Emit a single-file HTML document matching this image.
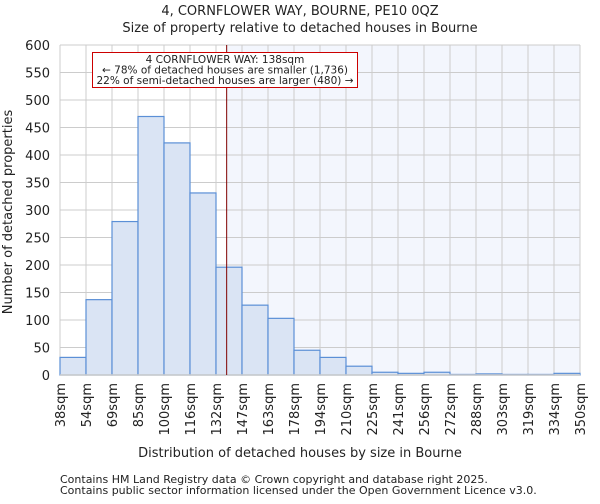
<!DOCTYPE html>
<html><head><meta charset="utf-8"><style>
body{margin:0;background:#fff;font-family:"DejaVu Sans","Liberation Sans",sans-serif;}
svg text{font-family:"DejaVu Sans","Liberation Sans",sans-serif;fill:#222;}
</style></head><body>
<svg id="chart" width="600" height="500" xmlns="http://www.w3.org/2000/svg">
<text x="300" y="15" text-anchor="middle" font-size="13">4, CORNFLOWER WAY, BOURNE, PE10 0QZ</text>
<text x="300" y="32" text-anchor="middle" font-size="13">Size of property relative to detached houses in Bourne</text>
<g id="plot"></g>
<text x="300" y="457" text-anchor="middle" font-size="13">Distribution of detached houses by size in Bourne</text>
<text transform="translate(12,212) rotate(-90)" text-anchor="middle" font-size="13">Number of detached properties</text>
<text x="60" y="483" font-size="11" fill="#444">Contains HM Land Registry data © Crown copyright and database right 2025.</text>
<text x="60" y="494" font-size="11" fill="#444">Contains public sector information licensed under the Open Government Licence v3.0.</text>
</svg>
<script>
const binLabels=["38sqm","54sqm","69sqm","85sqm","100sqm","116sqm","132sqm","147sqm","163sqm","178sqm","194sqm","210sqm","225sqm","241sqm","256sqm","272sqm","288sqm","303sqm","319sqm","334sqm","350sqm"];
const counts=[32,137,279,470,422,331,196,127,103,45,32,16,5,3,5,1,2,1,1,3];
const yTicks=[0,50,100,150,200,250,300,350,400,450,500,550,600];
const propertySize=138;
const xMin=38,xMax=350;
const L=60,R=580,T=45,B=375;
const NS="http://www.w3.org/2000/svg";
const g=document.getElementById('plot');
const xb=i=>L+i*(R-L)/counts.length;
const xv=v=>L+(v-xMin)/(xMax-xMin)*(R-L);
const y=v=>B-v/600*(B-T);
function mk(t,a){const e=document.createElementNS(NS,t);for(const k in a)e.setAttribute(k,a[k]);g.appendChild(e);return e;}
const px=xv(propertySize);
let hl=mk('rect',{x:px,y:T,width:R-px,height:B-T,fill:'#f3f6fd'});


yTicks.forEach(t=>{
 let l=mk('line',{x1:L,x2:R,y1:y(t),y2:y(t),stroke:'#ccc','stroke-width':1});
 
 
 let tx=mk('text',{x:L-10,y:y(t)+5,'text-anchor':'end','font-size':13});
 tx.textContent=t;
 
 
});
binLabels.forEach((lab,i)=>{
 let l=mk('line',{x1:xb(i),x2:xb(i),y1:T,y2:B,stroke:'#ccc','stroke-width':1});
 
 
 let tx=mk('text',{transform:`translate(${xb(i)+5},${B+8}) rotate(-90)`,'text-anchor':'end','font-size':13});
 tx.textContent=lab;
 
 
});
counts.forEach((c,i)=>{
 let r=mk('rect',{x:xb(i),y:y(c),width:xb(i+1)-xb(i),height:B-y(c),fill:'#dae4f4',stroke:'#5b8fd6','stroke-width':1.2});
 
 
});
let ax=mk('line',{x1:L,x2:R,y1:B,y2:B,stroke:'#ccc','stroke-width':1.5});


let ml=mk('line',{x1:px,x2:px,y1:T,y2:B,stroke:'#800000','stroke-width':1});


let box=mk('rect',{x:92.5,y:52.5,width:265,height:35,fill:'#fff',stroke:'#c00','stroke-width':1});


["4 CORNFLOWER WAY: 138sqm","← 78% of detached houses are smaller (1,736)","22% of semi-detached houses are larger (480) →"].forEach((s,i)=>{
 let t=mk('text',{x:225,y:63+i*10.5,'text-anchor':'middle','font-size':10.5});
 t.textContent=s;
 
 
});
</script>
</body></html>
